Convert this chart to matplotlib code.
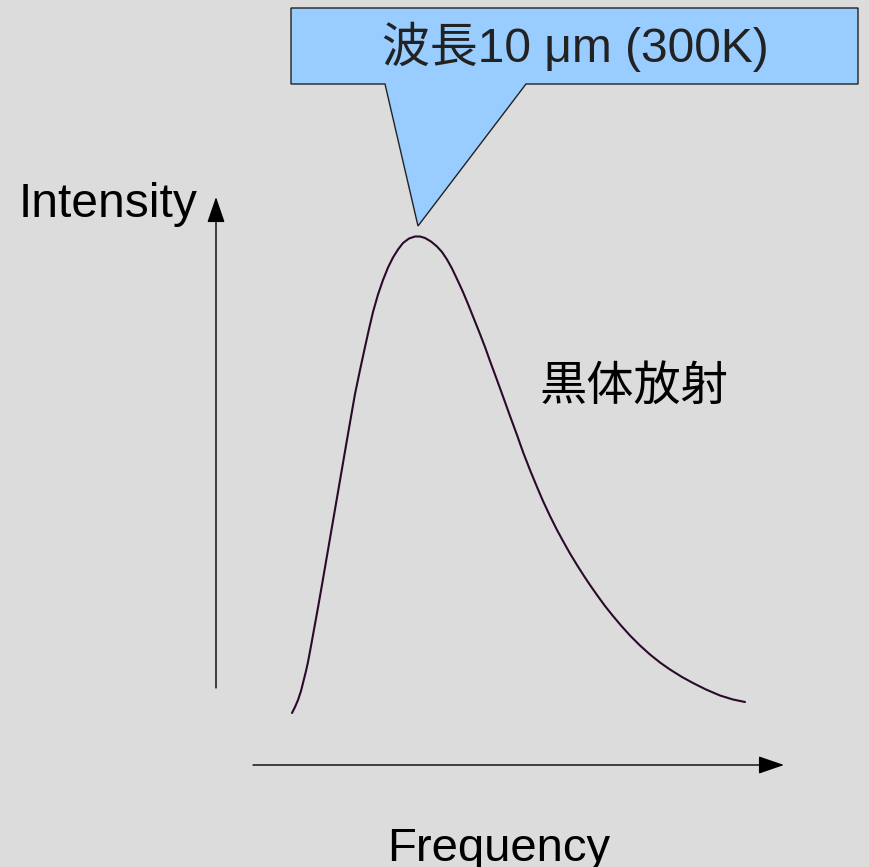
import numpy as np
import matplotlib.pyplot as plt
from matplotlib.patches import Polygon

# 曲線（黒体放射）の点：x = 周波数方向, y = 強度方向（画像の座標系）
curve_x = [292, 295, 298, 301, 303, 306, 308, 311, 313, 316, 318, 321, 323, 326,
           328, 331, 333, 336, 338, 341, 343, 346, 350, 355, 360, 365, 369, 373,
           378, 383, 388, 393, 398, 403, 409, 415, 420, 425, 431, 437, 442, 447,
           452, 457, 463, 468, 474, 480, 485, 490, 497, 503, 510, 517, 523, 530,
           537, 543, 550, 557, 563, 570, 577, 584, 590, 597, 605, 613, 621, 630,
           640, 650, 660, 670, 682, 693, 706, 720, 733, 745]
curve_y = [713, 707, 700, 691, 683, 671, 662, 646, 635, 618.5, 607.5, 590.5, 579,
           561.5, 550, 532.5, 521, 503.5, 492, 474.5, 463, 445.5, 422.5, 394, 370,
           347, 329, 312, 294.5, 280, 267.5, 257.5, 249.5, 243, 238.5, 236.5,
           236.5, 238, 241.5, 246.5, 252, 259.5, 268.5, 279, 292, 304, 319, 334,
           347, 361, 380, 396.5, 416, 435, 452, 470, 487, 501, 516, 530, 541,
           553.5, 565, 576, 585, 595, 606, 616, 625.5, 635.5, 645.5, 654.5, 662.5,
           669.5, 677, 683, 689.5, 695.5, 699.5, 702]

# 吹き出しの輪郭
callout_x = [291, 858, 858, 526, 418, 385, 291]
callout_y = [8, 8, 84, 84, 226, 84, 84]

title_text = "波長10 μm (300K)"
curve_label = "黒体放射"
x_label = "Frequency"
y_label = "Intensity"

bg = "#dcdcdc"
plt.rcParams['font.family'] = ['Liberation Sans', 'Noto Sans CJK JP', 'DejaVu Sans']

fig = plt.figure(figsize=(8.7, 8.67), dpi=100, facecolor=bg)
ax = fig.add_axes([0, 0, 1, 1])
ax.set_facecolor(bg)
ax.set_xlim(0, 870)
ax.set_ylim(867, 0)
ax.axis('off')

# 軸の矢印
ax.annotate('', xy=(216, 197), xytext=(216, 688),
            arrowprops=dict(arrowstyle='-|>,head_length=1.6,head_width=0.55',
                            color='black', lw=1.0, shrinkA=0, shrinkB=0))
ax.annotate('', xy=(784, 765), xytext=(253, 765),
            arrowprops=dict(arrowstyle='-|>,head_length=1.6,head_width=0.55',
                            color='black', lw=1.0, shrinkA=0, shrinkB=0))

# 曲線
ax.plot(curve_x, curve_y, color='#2a0a2a', lw=1.5, solid_capstyle='round',
        solid_joinstyle='round')

# 吹き出し
ax.add_patch(Polygon(np.column_stack((callout_x, callout_y)), closed=True,
                     facecolor='#99ccff', edgecolor='#222222', lw=1.0))

ax.text(575, 47, title_text, ha='center', va='center', fontsize=34.5, color='#222222')
ax.text(540, 388, curve_label, ha='left', va='center', fontsize=34, color='black')
ax.text(19, 217, y_label, ha='left', va='baseline', fontsize=34.5, color='black')
ax.text(499, 861, x_label, ha='center', va='baseline', fontsize=34, color='black')

plt.savefig('out.png', dpi=100, facecolor=bg)
